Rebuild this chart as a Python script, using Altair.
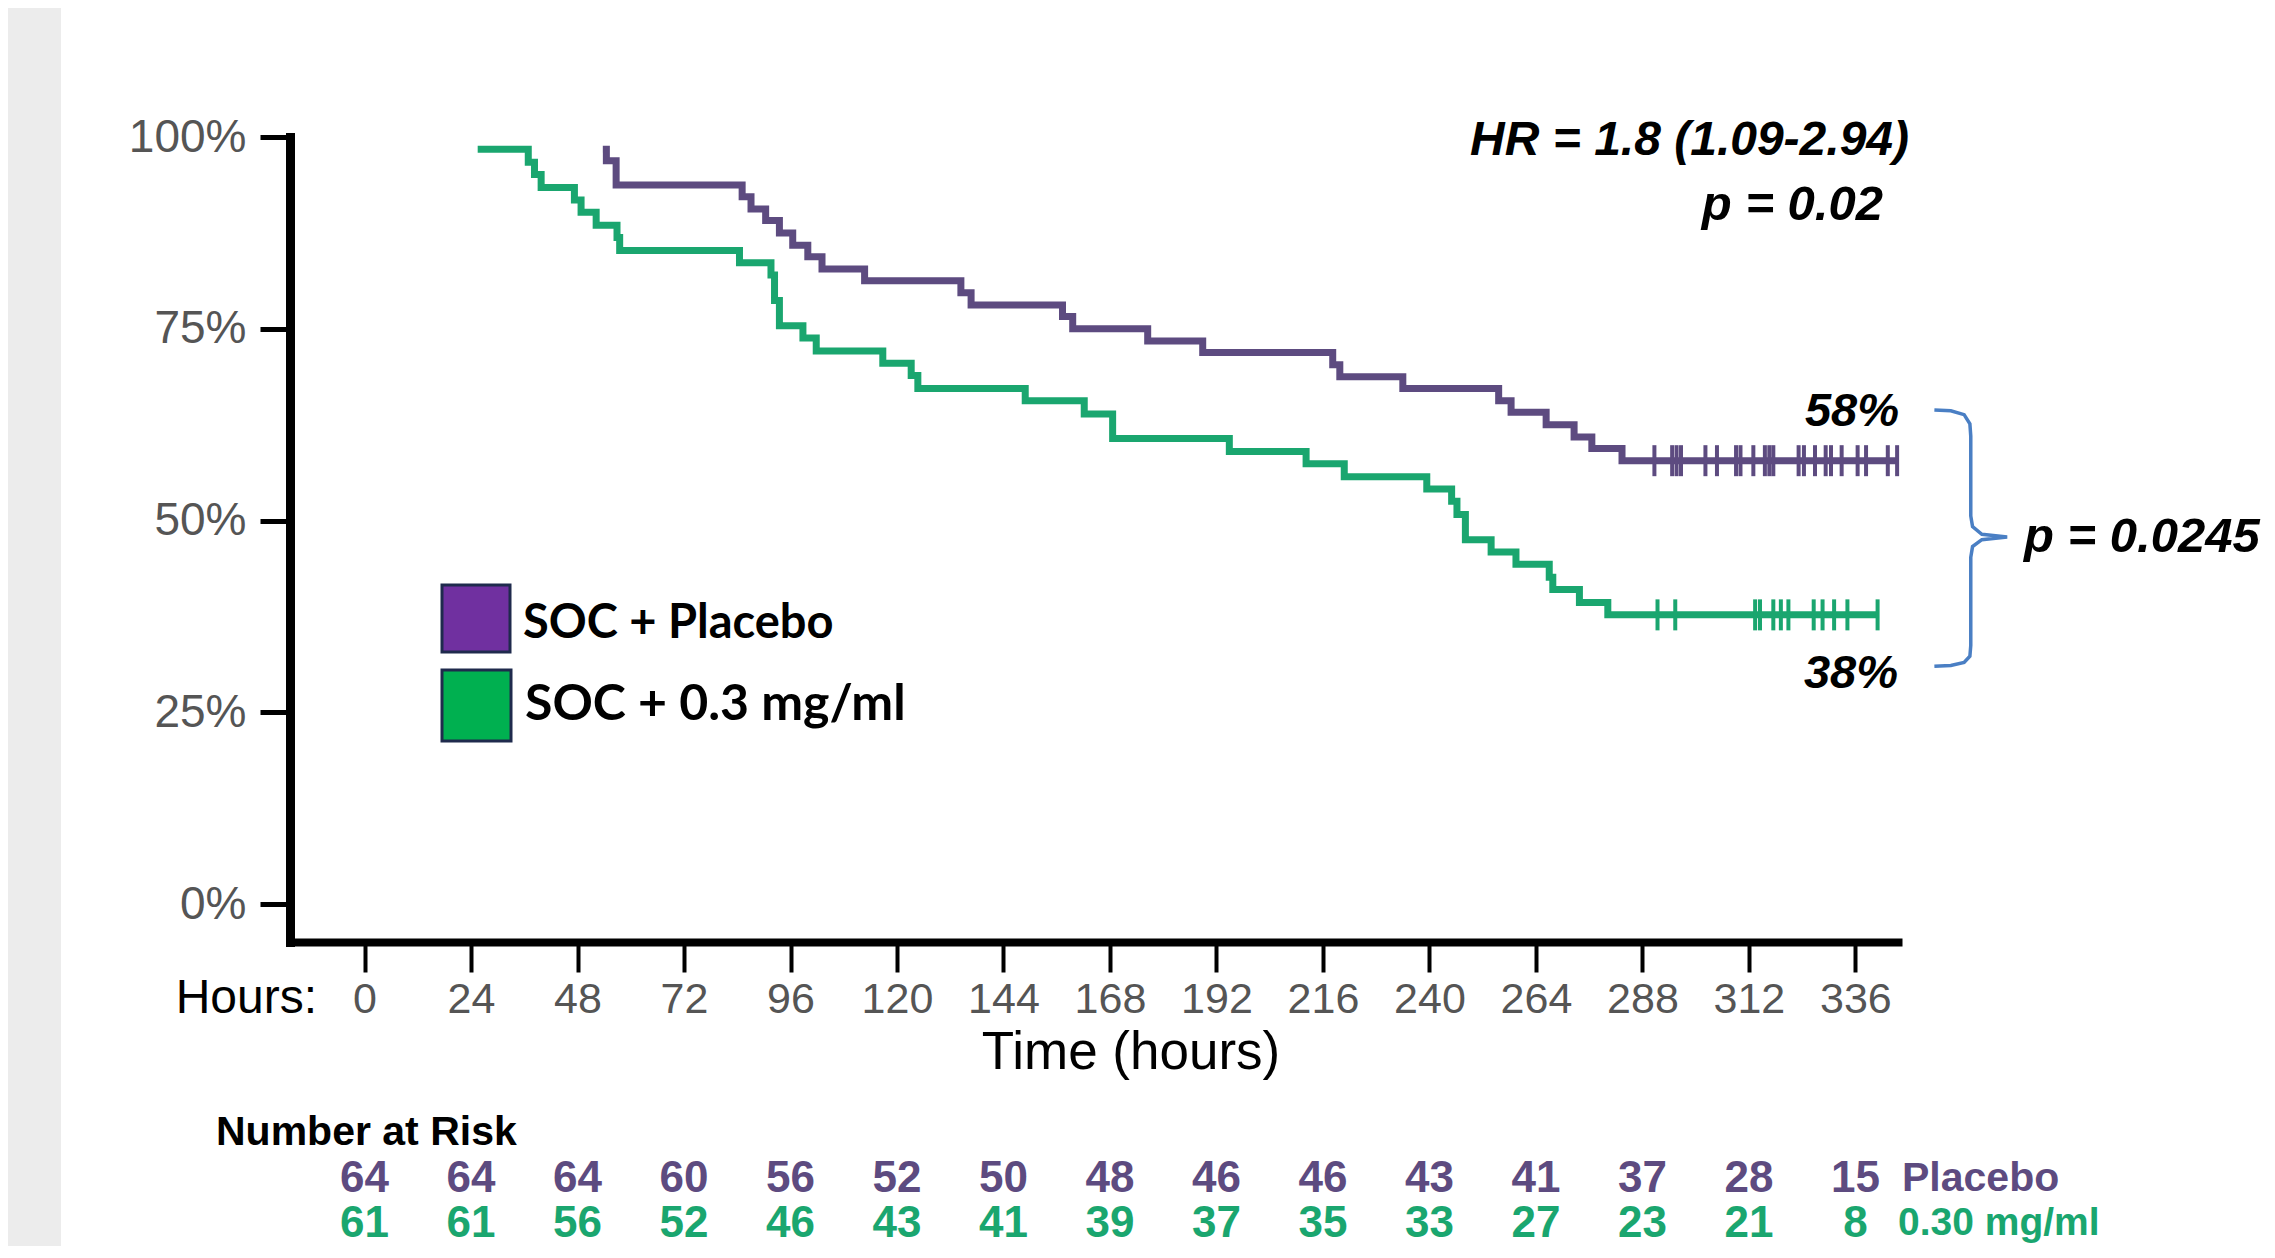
import altair as alt
import pandas as pd

# ---------------- data ----------------
placebo_t = [53.7, 54.5, 56.7, 85.1, 87.1, 90.4, 93.5, 96.5, 99.9, 103.1, 112.7,
             134.4, 136.7, 157.3, 159.6, 176.5, 188.9, 218.2, 219.8, 234.0,
             255.6, 258.4, 266.3, 272.6, 276.6, 283.4, 345.4]
placebo_s = [98.4, 96.9, 93.75, 92.2, 90.6, 89.1, 87.5, 85.9, 84.4, 82.8, 81.25,
             79.7, 78.1, 76.6, 75.0, 73.4, 71.9, 70.3, 68.75, 67.2,
             65.6, 64.1, 62.5, 60.9, 59.4, 57.8, 57.8]
placebo_censor = [290.7, 294.7, 295.7, 296.7, 302.2, 304.8, 309.1, 310.1, 313.0,
                  315.6, 316.6, 317.5, 323.2, 324.4, 326.9, 329.3, 330.5, 332.9,
                  336.5, 338.4, 343.3, 345.4]
placebo_censor_s = 57.8

green_t = [25.5, 36.9, 38.3, 39.8, 47.3, 48.8, 52.2, 56.9, 57.5, 84.5, 91.6, 92.4,
           93.5, 98.8, 101.8, 116.8, 123.2, 124.7, 148.9, 162.2, 168.6, 194.9,
           212.2, 220.8, 239.4, 245.0, 246.2, 248.1, 253.9, 259.5, 267.0, 267.8,
           273.8, 280.2, 341.0]
green_s = [98.4, 96.7, 95.1, 93.4, 91.8, 90.2, 88.5, 86.9, 85.2, 83.6, 82.0, 78.7,
           75.4, 73.8, 72.1, 70.5, 68.9, 67.2, 65.6, 63.9, 60.7, 59.0,
           57.4, 55.7, 54.1, 52.5, 50.8, 47.5, 45.9, 44.3, 42.6, 41.0,
           39.3, 37.7, 37.7]
green_censor = [291.4, 295.4, 313.4, 314.5, 317.5, 319.2, 320.9, 326.6, 328.6,
                331.2, 334.2, 341.0]
green_censor_s = 37.7

hour_ticks = [0, 24, 48, 72, 96, 120, 144, 168, 192, 216, 240, 264, 288, 312, 336]
pct_ticks = [0, 25, 50, 75, 100]
risk_placebo = [64, 64, 64, 60, 56, 52, 50, 48, 46, 46, 43, 41, 37, 28, 15]
risk_green = [61, 61, 56, 52, 46, 43, 41, 39, 37, 35, 33, 27, 23, 21, 8]

brace_t = [353.8, 357.5, 360.5, 361.8, 362.0, 362.0, 362.4, 364.5, 370.2,
           364.5, 362.4, 362.0, 362.0, 361.8, 360.5, 357.5, 353.8]
brace_s = [64.4, 64.3, 63.8, 62.6, 61.0, 50.6, 49.2, 48.2, 47.85,
           47.5, 46.6, 45.2, 33.7, 32.3, 31.5, 31.1, 31.0]

label_hr = "HR = 1.8 (1.09-2.94)"
label_p1 = "p = 0.02"
label_p2 = "p = 0.0245"
label_58 = "58%"
label_38 = "38%"
legend_labels = ["SOC + Placebo", "SOC + 0.3 mg/ml"]
risk_names = ["Placebo", "0.30 mg/ml"]

# ---------------- styling ----------------
PURPLE = "#5d4b80"
GREEN = "#1aa66f"
BLUE = "#4a7fc4"
FONT = "Liberation Sans"

W, H = 1608, 805
xscale = alt.Scale(domain=[-16.8, 345.6], nice=False, zero=False)
yscale = alt.Scale(domain=[-4.95, 100], nice=False, zero=False)

xaxis = alt.Axis(values=hour_ticks, title=None, grid=False, domainColor="black",
                 domainWidth=8, domainCap="square", tickColor="black", tickWidth=4,
                 tickSize=30, labelFont=FONT, labelFontSize=43, labelColor="#555555",
                 labelPadding=6, labelFlush=False, labelOverlap=False)
yaxis = alt.Axis(values=pct_ticks, title=None, grid=False, domainColor="black",
                 domainWidth=9, domainCap="square", tickColor="black", tickWidth=5,
                 tickSize=30, labelFont=FONT, labelFontSize=46, labelColor="#555555",
                 labelPadding=14, labelExpr="datum.value + '%'", labelFlush=False,
                 labelOverlap=False)


def X(field):
    return alt.X(f"{field}:Q", scale=xscale, axis=xaxis)


def Y(field):
    return alt.Y(f"{field}:Q", scale=yscale, axis=yaxis)


def curve(ts, ss, color):
    df = pd.DataFrame({"t": ts, "s": ss})
    return alt.Chart(df).mark_line(interpolate="step-after", color=color,
                                   strokeWidth=7, clip=False).encode(x=X("t"), y=Y("s"))


def censor(ts, s, color):
    df = pd.DataFrame({"t": ts, "s": [s] * len(ts)})
    return alt.Chart(df).mark_tick(orient="vertical", size=31, thickness=4,
                                   color=color, opacity=1).encode(x=X("t"), y=Y("s"))


def text_at(txt, x, y, size, color="black", weight="normal", style="normal",
            align="left", font=FONT):
    df = pd.DataFrame({"label": [txt]})
    return alt.Chart(df).mark_text(align=align, baseline="alphabetic", fontSize=size,
                                   font=font, fontWeight=weight, fontStyle=style,
                                   color=color).encode(
        x=alt.value(x), y=alt.value(y), text="label:N")


def box(x, x2, y, y2, fill):
    df = pd.DataFrame({"k": [1]})
    return alt.Chart(df).mark_rect(fill=fill, stroke="#1f2a4d", strokeWidth=3).encode(
        x=alt.value(x), x2=alt.value(x2), y=alt.value(y), y2=alt.value(y2))


band = alt.Chart(pd.DataFrame({"k": [1]})).mark_rect(color="#ececec").encode(
    x=alt.value(-282), x2=alt.value(-229), y=alt.value(-129), y2=alt.value(1109))

brace_df = pd.DataFrame({"t": brace_t, "s": brace_s, "i": list(range(len(brace_t)))})
brace = alt.Chart(brace_df).mark_line(color=BLUE, strokeWidth=3.5, clip=False).encode(
    x=X("t"), y=Y("s"), order="i:Q")

risk_df = pd.DataFrame({"h": hour_ticks, "p": risk_placebo, "g": risk_green})
risk_p = alt.Chart(risk_df).mark_text(align="center", baseline="alphabetic", fontSize=44,
                                      font=FONT, fontWeight="bold", color=PURPLE).encode(
    x=X("h"), y=alt.value(1055), text="p:Q")
risk_g = alt.Chart(risk_df).mark_text(align="center", baseline="alphabetic", fontSize=44,
                                      font=FONT, fontWeight="bold", color=GREEN).encode(
    x=X("h"), y=alt.value(1100), text="g:Q")

layers = [
    band,
    curve(placebo_t, placebo_s, PURPLE),
    curve(green_t, green_s, GREEN),
    censor(placebo_censor, placebo_censor_s, PURPLE),
    censor(green_censor, green_censor_s, GREEN),
    brace,
    risk_p,
    risk_g,
    text_at(label_hr, 1619, 18, 48, weight="bold", style="italic", align="right"),
    text_at(label_p1, 1593, 83, 49, weight="bold", style="italic", align="right"),
    text_at(label_58, 1609, 289, 47, weight="bold", style="italic", align="right"),
    text_at(label_38, 1608, 551, 47, weight="bold", style="italic", align="right"),
    text_at(label_p2, 1734, 415, 49, weight="bold", style="italic"),
    box(152, 220, 448, 515, "#7030a0"),
    box(152, 221, 533, 604, "#00b050"),
    text_at(legend_labels[0], 233, 501, 47, weight="bold", font="Lato"),
    text_at(legend_labels[1], 235, 583, 50, weight="bold", font="Lato"),
    text_at("Hours:", 27, 876, 48, align="right"),
    text_at("Time (hours)", 841, 932, 53, align="center"),
    text_at("Number at Risk", -74, 1008, 41, weight="bold"),
    text_at(risk_names[0], 1612, 1054, 41, color=PURPLE, weight="bold"),
    text_at(risk_names[1], 1608, 1098, 39, color=GREEN, weight="bold"),
]

chart = alt.layer(*layers).properties(
    width=W, height=H,
    padding={"left": 282, "top": 129, "right": 365, "bottom": 304},
    autosize=alt.AutoSizeParams(type="none"),
    background="white",
).configure_view(stroke=None)

chart.save("out.html", embed_options={"renderer": "svg", "actions": False})
